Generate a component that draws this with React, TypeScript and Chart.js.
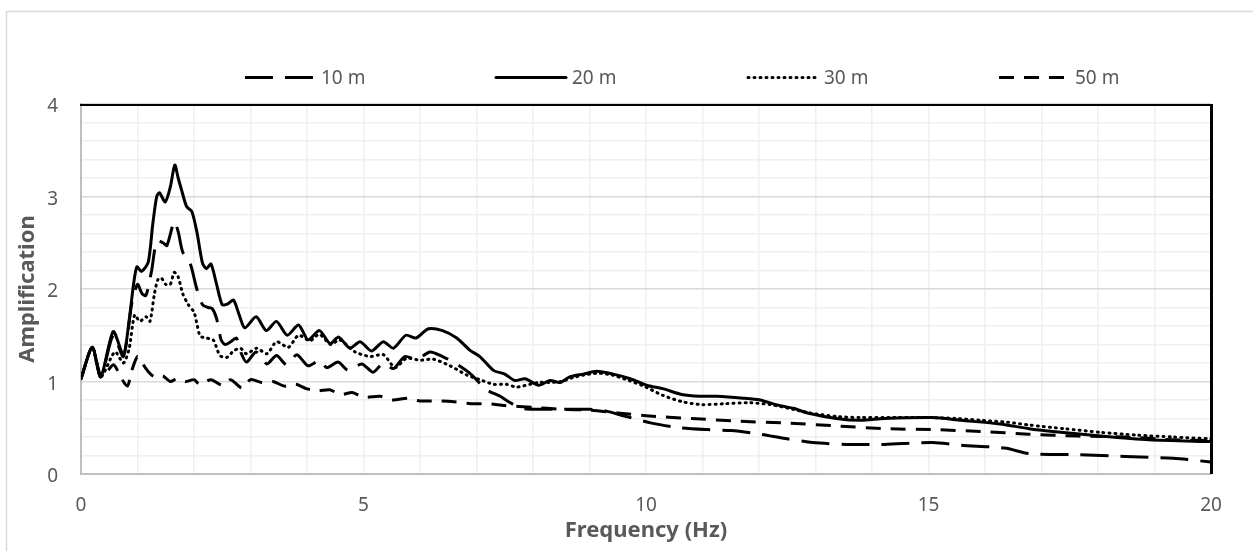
import React, { useEffect, useRef } from "react";
import { Chart, registerables } from "chart.js";

Chart.register(...registerables);

const FONT = "'Noto Sans', sans-serif";
const TEXT_GREY = "#595959";

// ---- data (Hz, amplification) ----
const freq10 = [0, 0.2, 0.35, 0.57, 0.75, 0.9, 1.0, 1.08, 1.15, 1.25, 1.34, 1.45, 1.52, 1.65, 1.72, 1.8, 1.93, 2.05, 2.15, 2.25, 2.32, 2.4, 2.48, 2.55, 2.65, 2.75, 2.84, 2.93, 3.1, 3.29, 3.46, 3.64, 3.82, 4.02, 4.23, 4.35, 4.55, 4.73, 4.97, 5.17, 5.35, 5.53, 5.73, 5.94, 6.18, 6.4, 6.59, 6.88, 7.18, 7.42, 7.6, 7.8, 8.07, 8.5, 9.0, 9.3, 9.6, 10.1, 10.6, 11.07, 11.5, 11.93, 12.5, 12.95, 13.54, 14.22, 15.07, 15.58, 16.35, 16.78, 17.63, 18.48, 19.33, 20];
const amp10 = [1.03, 1.37, 1.05, 1.5, 1.27, 1.85, 2.05, 1.95, 1.93, 2.2, 2.52, 2.5, 2.47, 2.73, 2.62, 2.4, 2.28, 2.0, 1.83, 1.8, 1.79, 1.68, 1.45, 1.4, 1.43, 1.47, 1.3, 1.21, 1.32, 1.19, 1.28, 1.18, 1.29, 1.17, 1.23, 1.15, 1.21, 1.12, 1.19, 1.1, 1.2, 1.14, 1.27, 1.24, 1.32, 1.27, 1.21, 1.09, 0.91, 0.84, 0.77, 0.71, 0.7, 0.7, 0.7, 0.68, 0.63, 0.55, 0.5, 0.48, 0.47, 0.44, 0.38, 0.34, 0.32, 0.32, 0.34, 0.31, 0.28, 0.22, 0.21, 0.19, 0.17, 0.13];

const freq20 = [0, 0.2, 0.35, 0.57, 0.75, 0.85, 0.93, 0.99, 1.07, 1.19, 1.27, 1.34, 1.39, 1.49, 1.58, 1.66, 1.72, 1.78, 1.87, 1.96, 2.05, 2.15, 2.22, 2.3, 2.4, 2.5, 2.6, 2.7, 2.8, 2.9, 3.1, 3.28, 3.46, 3.65, 3.85, 4.02, 4.22, 4.41, 4.56, 4.76, 4.94, 5.14, 5.35, 5.53, 5.75, 5.93, 6.15, 6.4, 6.65, 6.88, 7.06, 7.3, 7.5, 7.68, 7.86, 8.1, 8.3, 8.48, 8.65, 8.89, 9.13, 9.42, 9.72, 10.01, 10.31, 10.63, 10.95, 11.25, 11.72, 12.02, 12.3, 12.61, 12.86, 13.37, 13.8, 14.22, 15.07, 15.58, 16.27, 16.78, 17.2, 18.05, 18.9, 20];
const amp20 = [1.03, 1.37, 1.05, 1.54, 1.29, 1.65, 2.05, 2.24, 2.19, 2.29, 2.7, 3.0, 3.04, 2.94, 3.1, 3.34, 3.2, 3.07, 2.89, 2.84, 2.62, 2.28, 2.22, 2.27, 2.05, 1.83, 1.84, 1.88, 1.72, 1.58, 1.7, 1.55, 1.65, 1.5, 1.61, 1.45, 1.55, 1.41, 1.48, 1.36, 1.43, 1.33, 1.43, 1.36, 1.5, 1.47, 1.57, 1.55, 1.47, 1.34, 1.27, 1.12, 1.08, 1.01, 1.03, 0.96, 1.01, 0.99, 1.05, 1.08, 1.11, 1.08, 1.03, 0.96, 0.92, 0.86, 0.84, 0.84, 0.82, 0.8, 0.75, 0.71, 0.66, 0.6, 0.58, 0.6, 0.61, 0.58, 0.54, 0.49, 0.46, 0.41, 0.37, 0.35];

const freq30 = [0, 0.2, 0.35, 0.6, 0.75, 0.85, 0.95, 1.04, 1.15, 1.22, 1.3, 1.36, 1.42, 1.5, 1.58, 1.65, 1.72, 1.8, 1.9, 2.0, 2.06, 2.11, 2.22, 2.34, 2.46, 2.58, 2.7, 2.82, 2.93, 3.11, 3.29, 3.46, 3.67, 3.85, 4.05, 4.22, 4.42, 4.58, 4.85, 5.12, 5.35, 5.56, 5.76, 6.0, 6.24, 6.53, 6.83, 7.06, 7.3, 7.53, 7.71, 7.95, 8.1, 8.3, 8.5, 8.7, 8.9, 9.15, 9.4, 9.7, 9.96, 10.3, 10.65, 10.99, 11.4, 11.84, 12.2, 12.6, 12.9, 13.4, 13.8, 14.2, 15.0, 15.5, 15.93, 16.4, 16.78, 17.4, 18.05, 18.7, 19.33, 20];
const amp30 = [1.03, 1.37, 1.05, 1.32, 1.2, 1.35, 1.72, 1.65, 1.7, 1.65, 1.95, 2.1, 2.12, 2.05, 2.05, 2.18, 2.13, 1.95, 1.83, 1.75, 1.6, 1.49, 1.47, 1.45, 1.28, 1.26, 1.33, 1.36, 1.3, 1.36, 1.3, 1.43, 1.37, 1.5, 1.44, 1.51, 1.4, 1.45, 1.32, 1.27, 1.29, 1.15, 1.25, 1.23, 1.24, 1.17, 1.07, 1.02, 0.97, 0.97, 0.94, 0.97, 0.99, 0.99, 1.0, 1.04, 1.07, 1.09, 1.07, 1.01, 0.95, 0.85, 0.78, 0.75, 0.76, 0.77, 0.75, 0.7, 0.66, 0.62, 0.61, 0.61, 0.61, 0.6, 0.58, 0.56, 0.53, 0.49, 0.45, 0.42, 0.4, 0.38];

const freq50 = [0, 0.2, 0.35, 0.45, 0.58, 0.7, 0.82, 0.9, 1.0, 1.08, 1.2, 1.3, 1.45, 1.58, 1.7, 1.85, 2.0, 2.1, 2.3, 2.5, 2.65, 2.85, 3.0, 3.2, 3.4, 3.6, 3.8, 4.0, 4.2, 4.4, 4.6, 4.8, 5.0, 5.3, 5.5, 5.8, 6.0, 6.3, 6.6, 6.9, 7.2, 7.5, 8.0, 8.5, 9.0, 9.5, 10.0, 10.81, 11.66, 12.52, 13.37, 14.22, 15.07, 15.93, 16.78, 17.63, 18.48, 19.33, 20];
const amp50 = [1.03, 1.37, 1.05, 1.1, 1.18, 1.05, 0.95, 1.12, 1.27, 1.2, 1.1, 1.05, 1.06, 1.0, 1.03, 1.0, 1.02, 0.97, 1.02, 0.96, 1.02, 0.93, 1.02, 0.99, 1.0, 0.95, 0.97, 0.92, 0.9, 0.91, 0.86, 0.88, 0.83, 0.84, 0.8, 0.82, 0.79, 0.79, 0.78, 0.76, 0.76, 0.74, 0.72, 0.7, 0.69, 0.66, 0.63, 0.6, 0.57, 0.55, 0.52, 0.49, 0.48, 0.46, 0.43, 0.41, 0.4, 0.37, 0.36];

const seriesLabels = ["10 m", "20 m", "30 m", "50 m"];
const xTickLabels = ["0", "5", "10", "15", "20"];
const yTickLabels = ["0", "1", "2", "3", "4"];

const toPoints = (xs: number[], ys: number[]) => xs.map((x, i) => ({ x, y: ys[i] }));

const styles = [
  { dash: [28, 12], cap: "butt" as CanvasLineCap },
  { dash: [] as number[], cap: "round" as CanvasLineCap },
  { dash: [1, 5], cap: "round" as CanvasLineCap },
  { dash: [15, 10], cap: "butt" as CanvasLineCap },
];

const isInt = (v: number) => Math.abs(v - Math.round(v)) < 1e-6;

export default function App() {
  const ref = useRef<HTMLCanvasElement>(null);

  useEffect(() => {
    const canvas = ref.current;
    if (!canvas) return;

    const frame = {
      id: "frame",
      beforeDraw(chart: any) {
        const ctx = chart.ctx;
        ctx.save();
        ctx.fillStyle = "#ffffff";
        ctx.fillRect(0, 0, chart.width, chart.height);
        ctx.strokeStyle = "#d9d9d9";
        ctx.lineWidth = 1.5;
        ctx.strokeRect(6.5, 11.5, 1400, 700);
        ctx.restore();
      },
    };

    const outerAxes = {
      id: "outerAxes",
      afterDatasetsDraw(chart: any) {
        const { ctx, chartArea } = chart;
        ctx.save();
        ctx.strokeStyle = "#000000";
        ctx.setLineDash([]);
        ctx.lineWidth = 2;
        ctx.beginPath();
        ctx.moveTo(chartArea.left - 1, chartArea.top + 1);
        ctx.lineTo(chartArea.right + 2, chartArea.top + 1);
        ctx.stroke();
        ctx.lineWidth = 3;
        ctx.beginPath();
        ctx.moveTo(chartArea.right + 0.5, chartArea.top);
        ctx.lineTo(chartArea.right + 0.5, chartArea.bottom);
        ctx.stroke();
        ctx.restore();
      },
    };

    const legendStarts = [245, 496, 748, 999];
    const customLegend = {
      id: "customLegend",
      afterDraw(chart: any) {
        const ctx = chart.ctx;
        ctx.save();
        const y = 77.5;
        seriesLabels.forEach((label, i) => {
          const x0 = legendStarts[i];
          ctx.strokeStyle = "#000000";
          ctx.lineWidth = 3;
          ctx.lineCap = styles[i].cap;
          ctx.setLineDash(styles[i].dash);
          ctx.beginPath();
          ctx.moveTo(x0, y);
          ctx.lineTo(x0 + 70, y);
          ctx.stroke();
          ctx.setLineDash([]);
          ctx.fillStyle = TEXT_GREY;
          ctx.font = `19px ${FONT}`;
          ctx.textBaseline = "middle";
          ctx.textAlign = "left";
          ctx.fillText(label, x0 + 76, y + 1);
        });
        ctx.restore();
      },
    };

    const seriesData = [
      toPoints(freq10, amp10),
      toPoints(freq20, amp20),
      toPoints(freq30, amp30),
      toPoints(freq50, amp50),
    ];

    const chart = new Chart(canvas, {
      type: "line",
      data: {
        datasets: seriesData.map((d, i) => ({
          label: seriesLabels[i],
          data: d,
          borderColor: "#000000",
          backgroundColor: "#000000",
          borderWidth: 3,
          borderDash: styles[i].dash,
          borderCapStyle: styles[i].cap,
          borderJoinStyle: "round",
          pointRadius: 0,
          tension: 0.25,
          fill: false,
        })),
      },
      options: {
        responsive: false,
        animation: false,
        devicePixelRatio: 1,
        layout: { padding: { top: 104, right: 42, left: 0, bottom: 0 } },
        plugins: {
          legend: { display: false },
          tooltip: { enabled: false },
        },
        scales: {
          x: {
            type: "linear",
            min: 0,
            max: 20,
            afterFit: (s: any) => {
              s.height = 77;
            },
            ticks: {
              stepSize: 1,
              autoSkip: false,
              maxRotation: 0,
              padding: 20,
              color: TEXT_GREY,
              font: { family: FONT, size: 19 },
              callback: (v: any) => {
                const s = String(v);
                return xTickLabels.includes(s) ? s : "";
              },
            },
            grid: { color: "#efefef", lineWidth: 1.5, drawTicks: false },
            border: { color: "#bfbfbf", width: 2 },
            title: {
              display: true,
              text: "Frequency (Hz)",
              color: TEXT_GREY,
              font: { family: FONT, size: 22, weight: "bold" },
              padding: { top: 0, bottom: 7 },
            },
          },
          y: {
            type: "linear",
            min: 0,
            max: 4,
            afterFit: (s: any) => {
              s.width = 81;
            },
            ticks: {
              stepSize: 0.2,
              autoSkip: false,
              padding: 23,
              labelOffset: 3,
              color: TEXT_GREY,
              font: { family: FONT, size: 19 },
              callback: (v: any) => {
                if (!isInt(v)) return "";
                const s = String(Math.round(v));
                return yTickLabels.includes(s) ? s : "";
              },
            },
            grid: {
              color: (c: any) => (isInt(c.tick.value) ? "#d9d9d9" : "#efefef"),
              lineWidth: 1.5,
              drawTicks: false,
            },
            border: { color: "#bfbfbf", width: 2 },
            title: {
              display: true,
              text: "Amplification",
              color: TEXT_GREY,
              font: { family: FONT, size: 22, weight: "bold" },
              padding: { top: 15, bottom: 0 },
            },
          },
        },
      },
      plugins: [frame, outerAxes, customLegend],
    });

    return () => chart.destroy();
  }, []);

  return (
    <div style={{ position: "fixed", left: 0, top: 0, width: 1253, height: 551, background: "#fff" }}>
      <canvas ref={ref} width={1253} height={551} style={{ display: "block", width: 1253, height: 551 }} />
    </div>
  );
}
